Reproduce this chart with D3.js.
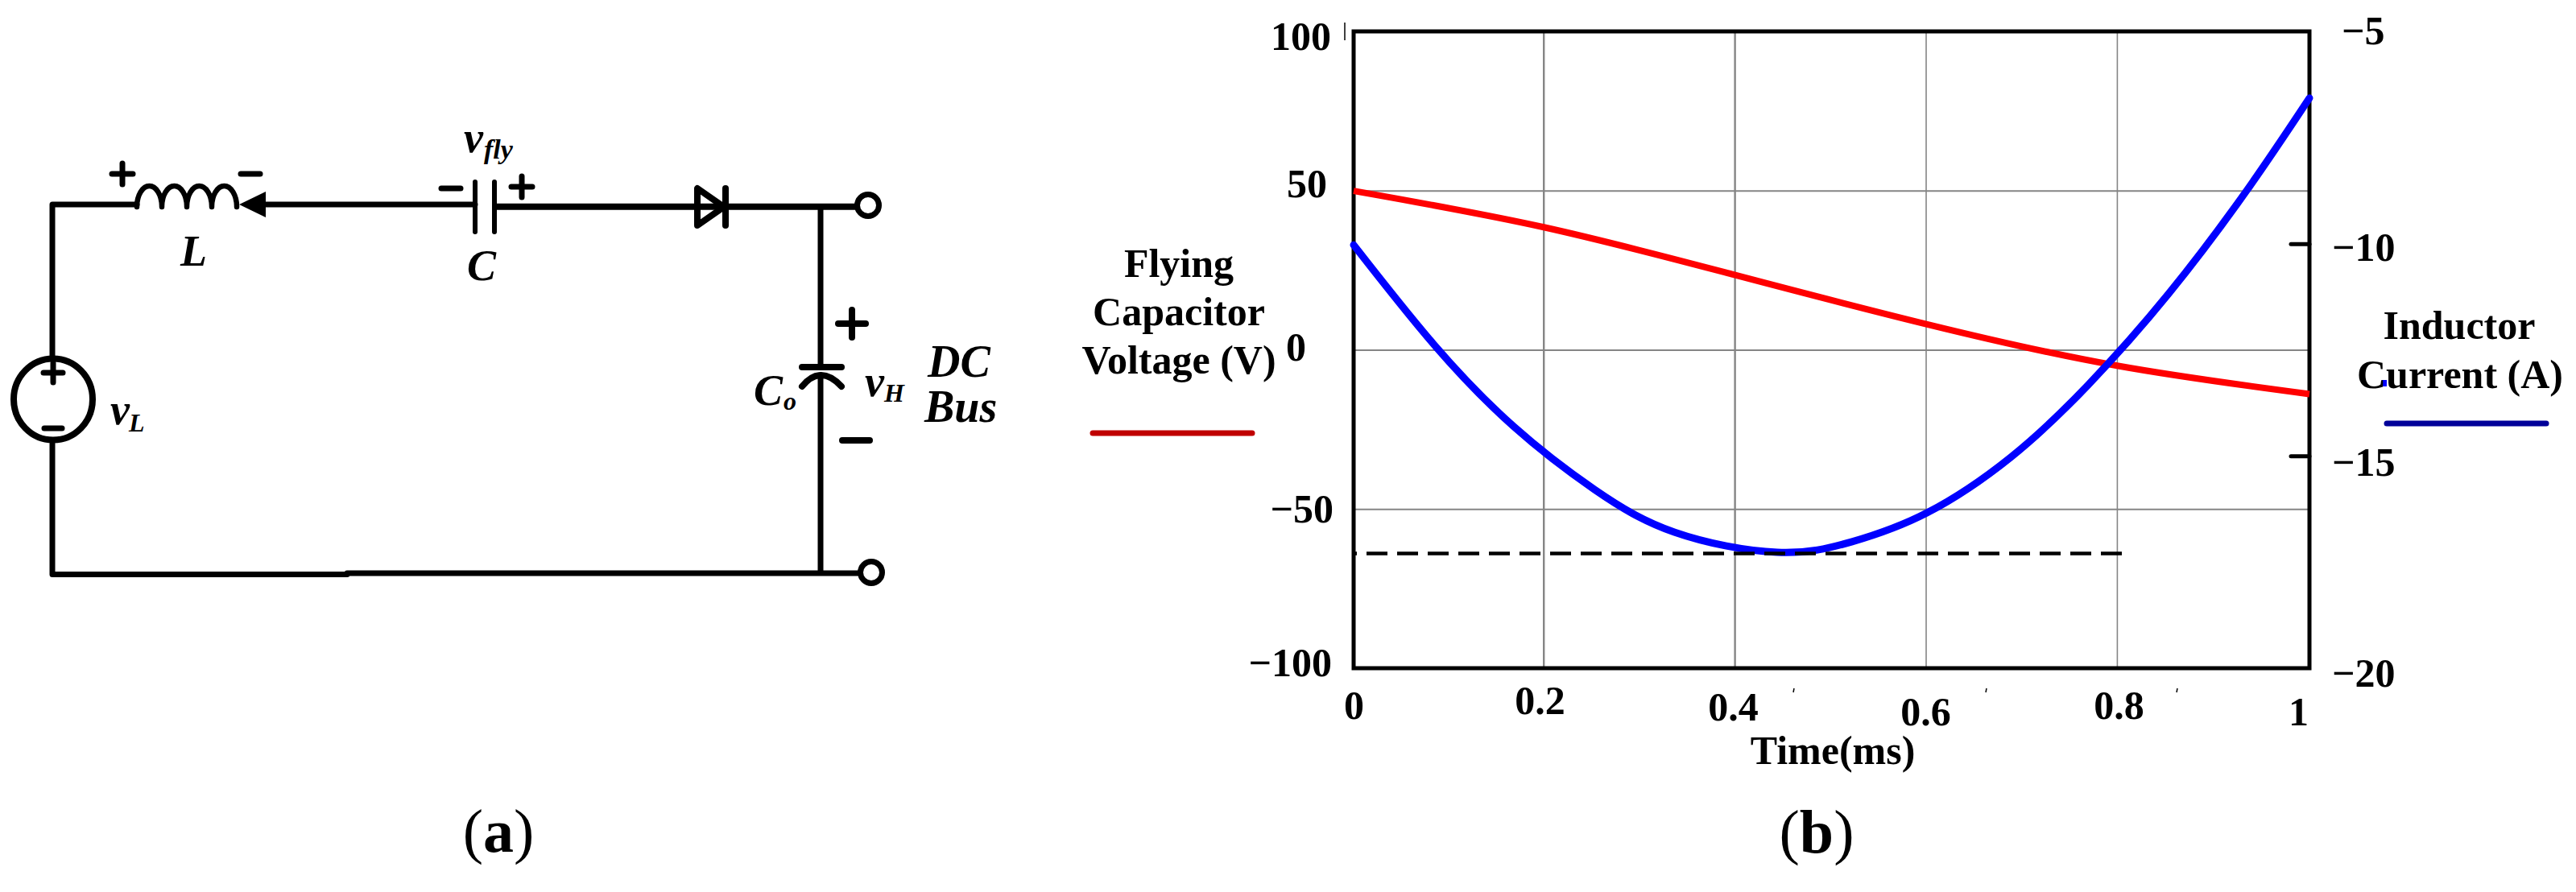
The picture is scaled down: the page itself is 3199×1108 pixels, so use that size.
<!DOCTYPE html>
<html><head><meta charset="utf-8">
<script src="https://cdn.jsdelivr.net/npm/d3@7/dist/d3.min.js"></script>
<style>
html,body{margin:0;padding:0;background:#fff;overflow:hidden}
svg{display:block}
text{font-family:"Liberation Serif",serif;fill:#000}
</style></head><body>
<svg id="c" width="3199" height="1108" viewBox="0 0 3199 1108"></svg>
<script>
// ---- data ----
const voltageTimes = [0,0.199,0.3976,0.6,0.7987,1];
const voltageValues = [49.9,38.5,23.6,8.0,-5.0,-13.9];
const currentTimes = [0,0.0834,0.1676,0.2519,0.3361,0.4431,0.5215,0.5998,0.6875,0.7683,0.8526,0.9343,1];
const currentValues = [-10.03,-12.36,-14.31,-15.79,-16.80,-17.27,-17.02,-16.34,-15.03,-13.33,-11.18,-8.75,-6.57];
const dashedLevel = -64;
const dashedEnd = 0.805;
const timeTicks = [0,0.2,0.4,0.6,0.8,1];
const voltageTicks = [100,50,0,-50,-100];
const currentTicks = [-5,-10,-15,-20];

const fmt = v => String(v).replace("-", "\u2212");
const svg = d3.select("#c");
const FONT = 50;

// ---- chart (b) ----
const x = d3.scaleLinear().domain([0,1]).range([1681,2868]);
const yV = d3.scaleLinear().domain([-100,100]).range([830,39]);
const yI = d3.scaleLinear().domain([-20,-5]).range([830,39]);
const chart = svg.append("g");

// grid through the library's axes
const gridX = chart.append("g").attr("transform",`translate(-1.7,${yV(-100)})`)
  .call(d3.axisBottom(x).tickValues(timeTicks.slice(1,-1)).tickFormat(""));
gridX.selectAll(".tick line").attr("y2",-(yV(-100)-yV(100))).attr("stroke","#858585").attr("stroke-width",(d,i)=>i<2?2.4:1.6);
gridX.select(".domain").remove();
const gridY = chart.append("g").attr("transform",`translate(${x(0)},0)`)
  .call(d3.axisRight(yV).tickValues(voltageTicks.slice(1,-1)).tickSize(x(1)-x(0)).tickFormat(""));
gridY.selectAll(".tick line").attr("stroke","#858585").attr("stroke-width",2);
gridY.select(".domain").remove();

// frame
chart.append("rect").attr("x",x(0)).attr("y",yV(100)).attr("width",x(1)-x(0)).attr("height",yV(-100)-yV(100))
  .attr("fill","none").attr("stroke","#000").attr("stroke-width",5);

// left axis labels
const leftPlace = new Map([[100,[1653,22]],[50,[1648,8]],[0,[1622,12.5]],[-50,[1656,16.6]],[-100,[1654,9]]]);
const axL = chart.append("g").attr("transform",`translate(${x(0)},0)`)
  .call(d3.axisLeft(yV).tickValues(voltageTicks).tickSize(0).tickFormat(fmt));
axL.select(".domain").remove();
axL.selectAll("text").attr("font-family","Liberation Serif").attr("font-size",FONT).attr("font-weight","bold")
  .attr("text-anchor","end").attr("dy",null).attr("fill","#000")
  .attr("x",d=>leftPlace.get(d)[0]-x(0)).attr("y",d=>leftPlace.get(d)[1]);

// right axis
const rightPlace = new Map([[-5,[2908,15]],[-10,[2896,21]],[-15,[2896,24]],[-20,[2896,22]]]);
const axR = chart.append("g").attr("transform",`translate(${x(1)},0)`)
  .call(d3.axisRight(yI).tickValues(currentTicks).tickSize(-23).tickFormat(fmt));
axR.select(".domain").remove();
axR.selectAll(".tick line").attr("stroke","#000").attr("stroke-width",5).attr("stroke-linecap","round")
  .attr("display",d=>(d===-10||d===-15)?null:"none");
axR.selectAll("text").attr("font-family","Liberation Serif").attr("font-size",FONT).attr("font-weight","bold")
  .attr("text-anchor","start").attr("dy",null).attr("fill","#000")
  .attr("x",d=>rightPlace.get(d)[0]-x(1)).attr("y",d=>rightPlace.get(d)[1]);

// bottom axis labels
const bottomPlace = new Map([[0,[1681,893]],[0.2,[1912,887]],[0.4,[2152,895]],[0.6,[2391,900.5]],[0.8,[2631,893]],[1,[2854,900.5]]]);
const axB = chart.append("g").attr("transform",`translate(0,${yV(-100)})`)
  .call(d3.axisBottom(x).tickValues(timeTicks).tickSize(0).tickFormat(d=>String(d)));
axB.select(".domain").remove();
axB.selectAll("text").attr("font-family","Liberation Serif").attr("font-size",FONT).attr("font-weight","bold")
  .attr("text-anchor","middle").attr("dy",null).attr("fill","#000")
  .attr("x",d=>bottomPlace.get(d)[0]-x(d)).attr("y",d=>bottomPlace.get(d)[1]-yV(-100));

// curves
const lineV = d3.line().x(d=>x(d[0])).y(d=>yV(d[1])).curve(d3.curveNatural);
const lineI = d3.line().x(d=>x(d[0])).y(d=>yI(d[1])).curve(d3.curveNatural);
chart.append("path").attr("d",lineV(d3.zip(voltageTimes,voltageValues)))
  .attr("fill","none").attr("stroke","#ff0000").attr("stroke-width",8);
chart.append("path").attr("d",lineI(d3.zip(currentTimes,currentValues)))
  .attr("fill","none").attr("stroke","#0000ff").attr("stroke-width",9).attr("stroke-linecap","round");
chart.append("line").attr("x1",x(0)).attr("x2",x(dashedEnd)).attr("y1",yV(dashedLevel)).attr("y2",yV(dashedLevel))
  .attr("stroke","#000").attr("stroke-width",4.5).attr("stroke-dasharray","26 12").attr("stroke-dashoffset",22);

// axis titles / legends
function label(t,px,py,o={}){
  return svg.append("text").attr("x",px).attr("y",py).attr("font-size",o.size||FONT)
    .attr("font-weight",o.weight||"bold").attr("font-style",o.style||"normal")
    .attr("text-anchor",o.anchor||"middle").text(t);
}
label("Time(ms)",2276,948.6);
label("Flying",1464,343.6);
label("Capacitor",1464,403.6);
label("Voltage (V)",1464,464);
label("Inductor",3054,420.7);
label("Current (A)",3055,482);
chart.append("line").attr("x1",1357).attr("x2",1555).attr("y1",538).attr("y2",538)
  .attr("stroke","#c00000").attr("stroke-width",7).attr("stroke-linecap","round");
chart.append("line").attr("x1",2964).attr("x2",3162).attr("y1",526).attr("y2",526)
  .attr("stroke","#000099").attr("stroke-width",7).attr("stroke-linecap","round");
chart.append("rect").attr("x",2958).attr("y",472).attr("width",6).attr("height",8).attr("fill","#0000ff");
// stray marks in the source picture
[[1670,28,1670,50],[2228,855,2227,860],[2467,855,2466,860],[2704,855,2703,860]].forEach(s=>
  chart.append("line").attr("x1",s[0]).attr("y1",s[1]).attr("x2",s[2]).attr("y2",s[3]).attr("stroke","#000").attr("stroke-width",1.5));

// panel tags
function panelTag(ch,cx,by){
  const t=svg.append("text").attr("x",cx).attr("y",by).attr("font-size",76).attr("text-anchor","middle");
  t.append("tspan").text("(");
  t.append("tspan").attr("font-weight","bold").text(ch);
  t.append("tspan").text(")");
}
panelTag("a",619,1058);
panelTag("b",2256,1059);

// ---- circuit (a) ----
const sch = svg.append("g").attr("fill","none").attr("stroke","#000").attr("stroke-linecap","round").attr("stroke-linejoin","round");
function wire(pts,w=7,cap){
  const p=d3.path(); pts.forEach((q,i)=> i?p.lineTo(q[0],q[1]):p.moveTo(q[0],q[1]));
  const s=sch.append("path").attr("d",p.toString()).attr("stroke-width",w);
  if(cap) s.attr("stroke-linecap",cap);
  return s;
}
// wires
wire([[65,442],[65,254],[170,254]]);
wire([[65,551],[65,713.6],[431,713.6]]);
wire([[431,712],[1066,712]]);
wire([[330,254],[590,254]]);
wire([[614,256.7],[1062,256.7]],8,"butt");
wire([[1019,256],[1019,456]],7,"butt");
wire([[1019,466],[1019,712]],7,"butt");
// inductor
sch.append("path").attr("stroke-width",6.5)
  .attr("d","M170 257 A15.5 26 0 0 1 201 257 A15.5 26 0 0 1 232 257 A15.5 26 0 0 1 263 257 A15.5 26 0 0 1 294 257");
sch.append("path").attr("d","M297 254 L330 238 L330 270 Z").attr("fill","#000").attr("stroke","none");
// flying capacitor
wire([[590,226],[590,288]],6); wire([[614,226],[614,288]],6);
// diode
sch.append("path").attr("d","M866 234 L866 280 L899 257 Z").attr("stroke-width",8);
wire([[901,234],[901,280]],8);
// terminals
sch.append("circle").attr("cx",1078).attr("cy",255).attr("r",13.5).attr("stroke-width",7).attr("fill","#fff");
sch.append("circle").attr("cx",1082).attr("cy",711).attr("r",13.5).attr("stroke-width",7).attr("fill","#fff");
// output capacitor
wire([[996,456],[1045,456]],8);
sch.append("path").attr("d","M996 480 Q1019 452 1045 480").attr("stroke-width",8);
// source
sch.append("ellipse").attr("cx",66).attr("cy",496).attr("rx",49).attr("ry",50.5).attr("stroke-width",8);
// polarity signs
function plus(cx,cy,s,w=7){wire([[cx-s/2,cy],[cx+s/2,cy]],w);wire([[cx,cy-s/2],[cx,cy+s/2]],w);}
function minus(cx,cy,s,w=7){wire([[cx-s/2,cy],[cx+s/2,cy]],w);}
plus(152,216,26); minus(311,216,24);
minus(560,234,24); plus(648,232,26);
plus(1058,402,34,8); minus(1063,547,34,8);
plus(66,463,24); minus(66,532,22);

// circuit labels
function sym(main,mx,my,sub,sx,sy,mainSize=54,subSize=32){
  label(main,mx,my,{size:mainSize,style:"italic",anchor:"start"});
  if(sub) label(sub,sx,sy,{size:subSize,style:"italic",anchor:"start"});
}
sym("L",224,330);
sym("C",580,348);
sym("v",576,189,"fly",601,197,54,34);
sym("v",137,527,"L",160,536);
sym("C",936,503,"o",973,509);
sym("v",1074,492,"H",1098,499);
label("DC",1152,468,{size:56,style:"italic",anchor:"start"});
label("Bus",1148,524,{size:56,style:"italic",anchor:"start"});
</script>
</body></html>
